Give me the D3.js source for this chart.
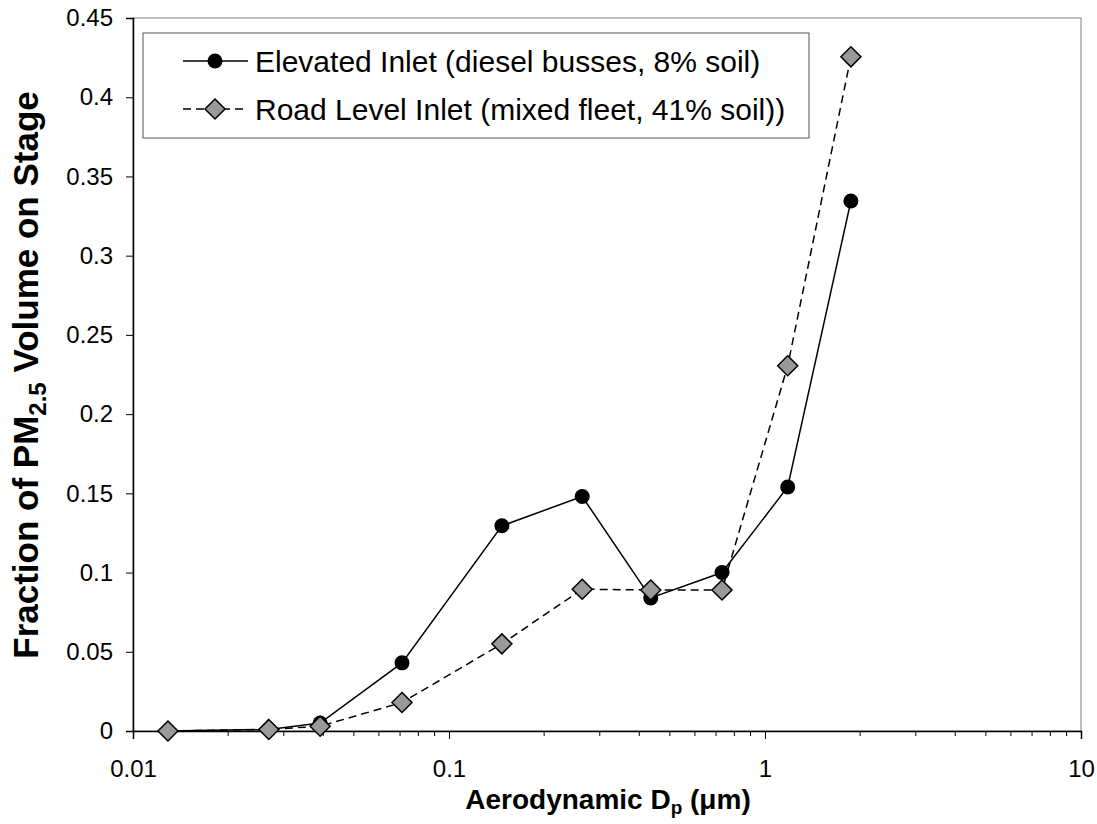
<!DOCTYPE html>
<html>
<head>
<meta charset="utf-8">
<script src="https://cdn.jsdelivr.net/npm/d3@7"></script>
<style>
  body { margin: 0; background: #fff; }
  text { font-family: Arial, "Liberation Sans", sans-serif; }
</style>
</head>
<body>
<div id="chart"></div>
<script>
// data
var diameters = [0.0129, 0.0269, 0.0391, 0.0710, 0.147, 0.264, 0.435, 0.731, 1.18, 1.87];
var elevated = [0.000, 0.001, 0.005, 0.043, 0.1295, 0.148, 0.084, 0.100, 0.154, 0.3345];
var roadLevel = [0.000, 0.001, 0.003, 0.018, 0.055, 0.0895, 0.089, 0.089, 0.2305, 0.4255];
var yTicks = [0, 0.05, 0.1, 0.15, 0.2, 0.25, 0.3, 0.35, 0.4, 0.45];
var xTicks = [0.01, 0.1, 1, 10];
var seriesNames = ["Elevated Inlet (diesel busses, 8% soil)", "Road Level Inlet (mixed fleet, 41% soil))"];

var W = 1097, H = 824;
var margin = { top: 18, right: 16, bottom: 93, left: 133 },
    width = W - margin.left - margin.right,
    height = H - margin.top - margin.bottom;

var svg = d3.select("#chart").append("svg")
    .attr("width", W)
    .attr("height", H);

var g = svg.append("g")
    .attr("transform", "translate(" + margin.left + "," + margin.top + ")");

var x = d3.scaleLog().domain([0.01, 10]).range([0, width]);
var y = d3.scaleLinear().domain([0, 0.45]).range([height, 0]);

// frame (top / right thin grey)
g.append("rect")
    .attr("x", 0).attr("y", 0)
    .attr("width", width).attr("height", height)
    .attr("fill", "none")
    .attr("stroke", "#808080")
    .attr("stroke-width", 1);

// minor x ticks
var minor = [];
[0.01, 0.1, 1].forEach(function(d) {
  for (var k = 2; k <= 9; k++) minor.push(d * k);
});
g.selectAll(".minor").data(minor).enter().append("line")
    .attr("x1", function(d) { return x(d); })
    .attr("x2", function(d) { return x(d); })
    .attr("y1", height).attr("y2", height + 5)
    .attr("stroke", "#000").attr("stroke-width", 1);

// x axis
var xAxis = g.append("g")
    .attr("transform", "translate(0," + height + ")")
    .call(d3.axisBottom(x).tickValues(xTicks).tickSize(8).tickPadding(21)
      .tickFormat(function(d) { return String(d); }));
xAxis.select(".domain").attr("stroke-width", 1.5);
xAxis.selectAll("text").style("font-size", "24px").attr("fill", "#000");

// y axis
var yAxis = g.append("g")
    .call(d3.axisLeft(y).tickValues(yTicks).tickSize(7).tickPadding(13)
      .tickFormat(function(d) { return String(d); }));
yAxis.select(".domain").attr("stroke-width", 1.5);
yAxis.selectAll("text").style("font-size", "24px").attr("fill", "#000");

// lines
var line = d3.line()
    .x(function(d, i) { return x(diameters[i]); })
    .y(function(d) { return y(d); });

g.append("path")
    .datum(roadLevel)
    .attr("d", line)
    .attr("fill", "none")
    .attr("stroke", "#000")
    .attr("stroke-width", 1.5)
    .attr("stroke-dasharray", "8,5");

g.append("path")
    .datum(elevated)
    .attr("d", line)
    .attr("fill", "none")
    .attr("stroke", "#000")
    .attr("stroke-width", 1.5);

var diamond = "M0,-10L10,0L0,10L-10,0Z";

g.selectAll(".dot").data(elevated).enter().append("circle")
    .attr("cx", function(d, i) { return x(diameters[i]); })
    .attr("cy", function(d) { return y(d); })
    .attr("r", 7.5)
    .attr("fill", "#000");

g.selectAll(".dia").data(roadLevel).enter().append("path")
    .attr("d", diamond)
    .attr("transform", function(d, i) { return "translate(" + x(diameters[i]) + "," + y(d) + ")"; })
    .attr("fill", "#999")
    .attr("stroke", "#000")
    .attr("stroke-width", 1.5);

// legend
var legend = svg.append("g").attr("transform", "translate(143,33)");
legend.append("rect")
    .attr("width", 666).attr("height", 105)
    .attr("fill", "#fff")
    .attr("stroke", "#555")
    .attr("stroke-width", 1);

legend.append("line")
    .attr("x1", 40).attr("x2", 105).attr("y1", 28).attr("y2", 28)
    .attr("stroke", "#000").attr("stroke-width", 1.5);
legend.append("circle").attr("cx", 72).attr("cy", 28).attr("r", 7.5).attr("fill", "#000");

legend.append("line")
    .attr("x1", 40).attr("x2", 105).attr("y1", 76).attr("y2", 76)
    .attr("stroke", "#000").attr("stroke-width", 1.5)
    .attr("stroke-dasharray", "8,5");
legend.append("path")
    .attr("d", diamond)
    .attr("transform", "translate(72,76)")
    .attr("fill", "#999").attr("stroke", "#000").attr("stroke-width", 1.5);

legend.selectAll(".ltext").data(seriesNames).enter().append("text")
    .attr("x", 112)
    .attr("y", function(d, i) { return 28 + i * 48; })
    .attr("dy", "0.35em")
    .style("font-size", "30px")
    .text(function(d) { return d; });

// axis titles
var xt = svg.append("text")
    .attr("x", 608)
    .attr("y", 809)
    .attr("text-anchor", "middle")
    .style("font-size", "28px")
    .style("font-weight", "bold");
xt.append("tspan").text("Aerodynamic D");
xt.append("tspan").attr("dy", 5).style("font-size", "19px").text("p");
xt.append("tspan").attr("dy", -5).text(" (\u03bcm)");

var yt = svg.append("text")
    .attr("transform", "translate(38,375) rotate(-90)")
    .attr("text-anchor", "middle")
    .style("font-size", "35px")
    .style("font-weight", "bold");
yt.append("tspan").text("Fraction of PM");
yt.append("tspan").attr("dy", 8).style("font-size", "24px").text("2.5");
yt.append("tspan").attr("dy", -8).text(" Volume on Stage");
</script>
</body>
</html>
